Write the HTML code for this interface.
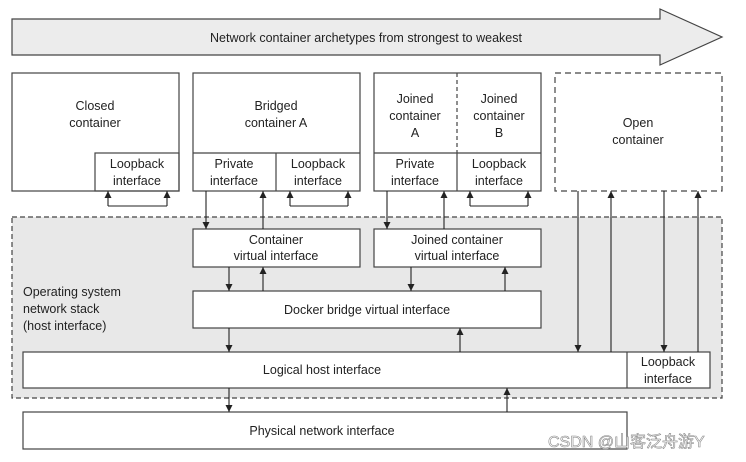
<!DOCTYPE html>
<html><head><meta charset="utf-8"><style>
body{margin:0;background:#fff}
svg{display:block}
text{font-family:"Liberation Sans",Arial,sans-serif;font-size:12.5px;fill:#222;text-anchor:middle}
</style></head><body>
<svg width="746" height="462" viewBox="0 0 746 462" xmlns="http://www.w3.org/2000/svg">
<defs>
<marker id="a" viewBox="0 0 10 10" refX="10" refY="5" markerWidth="7" markerHeight="8" orient="auto" markerUnits="userSpaceOnUse"><path d="M0,0L10,5L0,10z" fill="#222"/></marker>
</defs>
<g stroke="#444" stroke-width="1.2" fill="none">
<path d="M12,19H660V9L722,37L660,65V55H12Z" fill="#ececec"/>
<rect x="12" y="217" width="710" height="181" fill="#e8e8e8" stroke-dasharray="5,3"/>
<rect x="12" y="73" width="167" height="118" fill="#fff"/>
<rect x="95" y="153" width="84" height="38"/>
<rect x="193" y="73" width="167" height="118" fill="#fff"/>
<path d="M193,153H360M276,153V191"/>
<rect x="374" y="73" width="167" height="118" fill="#fff"/>
<path d="M374,153H541M457,153V191"/>
<path d="M457,73V153" stroke-dasharray="4,3"/>
<rect x="555" y="73" width="167" height="118" fill="#fff" stroke-dasharray="6,4"/>
<rect x="193" y="229" width="167" height="38" fill="#fff"/>
<rect x="374" y="229" width="167" height="38" fill="#fff"/>
<rect x="193" y="291" width="348" height="37" fill="#fff"/>
<rect x="23" y="352" width="687" height="36" fill="#fff"/>
<path d="M627,352V388"/>
<rect x="23" y="412" width="604" height="37" fill="#fff"/>
</g>
<g stroke="#222" stroke-width="1.1" fill="none" marker-end="url(#a)">
<path d="M108,206V191"/><path d="M167,206V191"/>
<path d="M290,206V191"/><path d="M348,206V191"/>
<path d="M470,206V191"/><path d="M528,206V191"/>
<path d="M206,191V229"/><path d="M263,229V191"/>
<path d="M387,191V229"/><path d="M444,229V191"/>
<path d="M229,267V291"/><path d="M263,291V267"/>
<path d="M411,267V291"/><path d="M505,291V267"/>
<path d="M229,328V352"/><path d="M460,352V328"/>
<path d="M578,191V352"/><path d="M611,352V191"/>
<path d="M664,191V352"/><path d="M698,352V191"/>
<path d="M229,388V412"/><path d="M507,412V388"/>
</g>
<g stroke="#222" stroke-width="1.1" fill="none">
<path d="M108,206H167M290,206H348M470,206H528"/>
</g>
<text x="366" y="42">Network container archetypes from strongest to weakest</text>
<text x="95" y="110">Closed</text><text x="95" y="127">container</text>
<text x="137" y="168">Loopback</text><text x="137" y="185">interface</text>
<text x="276" y="110">Bridged</text><text x="276" y="127">container A</text>
<text x="234" y="168">Private</text><text x="234" y="185">interface</text>
<text x="318" y="168">Loopback</text><text x="318" y="185">interface</text>
<text x="415" y="103">Joined</text><text x="415" y="120">container</text><text x="415" y="137">A</text>
<text x="499" y="103">Joined</text><text x="499" y="120">container</text><text x="499" y="137">B</text>
<text x="415" y="168">Private</text><text x="415" y="185">interface</text>
<text x="499" y="168">Loopback</text><text x="499" y="185">interface</text>
<text x="638" y="127">Open</text><text x="638" y="144">container</text>
<text x="276" y="244">Container</text><text x="276" y="260">virtual interface</text>
<text x="457" y="244">Joined container</text><text x="457" y="260">virtual interface</text>
<text x="367" y="314">Docker bridge virtual interface</text>
<text x="23" y="296" style="text-anchor:start">Operating system</text><text x="23" y="313" style="text-anchor:start">network stack</text><text x="23" y="330" style="text-anchor:start">(host interface)</text>
<text x="322" y="374">Logical host interface</text>
<text x="668" y="366">Loopback</text><text x="668" y="383">interface</text>
<text x="322" y="435">Physical network interface</text>
<text x="548" y="447" style="text-anchor:start;font-family:'Liberation Sans','Noto Sans CJK SC',sans-serif;font-size:16px;fill:#fff;stroke:#888;stroke-width:0.6">CSDN @山客泛舟游Y</text>
</svg>
</body></html>
